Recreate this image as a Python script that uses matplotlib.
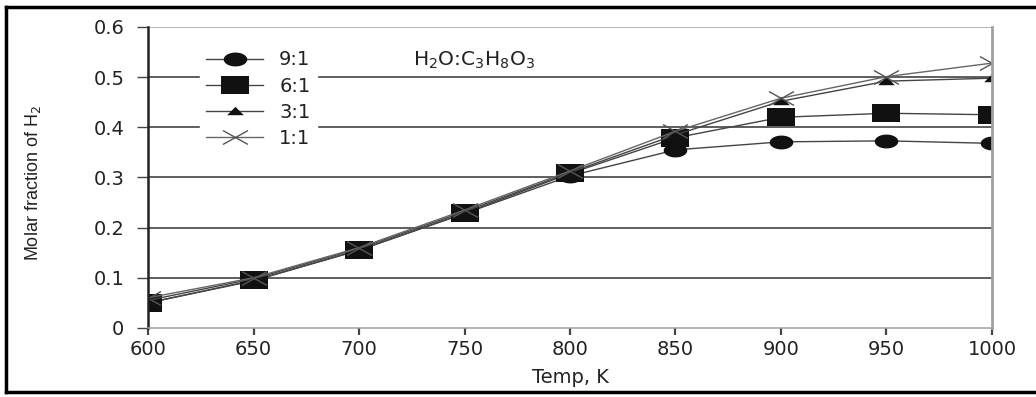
import numpy as np
import matplotlib.pyplot as plt
from matplotlib.path import Path
from matplotlib.lines import Line2D

plt.rcParams['font.family'] = ['DejaVu Sans']

temp = [600, 650, 700, 750, 800, 850, 900, 950, 1000]
r91 = [0.050, 0.094, 0.155, 0.228, 0.303, 0.355, 0.371, 0.373, 0.368]
r61 = [0.050, 0.095, 0.155, 0.229, 0.308, 0.379, 0.420, 0.428, 0.425]
r31 = [0.055, 0.098, 0.158, 0.232, 0.310, 0.385, 0.452, 0.492, 0.498]
r11 = [0.060, 0.100, 0.160, 0.235, 0.313, 0.392, 0.458, 0.501, 0.528]
labels = ['9:1', '6:1', '3:1', '1:1']

# the original picture is stretched sideways, so markers are wide
t = np.linspace(0, 2 * np.pi, 40)
wide_circle = Path(np.column_stack([1.7 * np.cos(t), np.sin(t)]))
wide_square = Path([(-1.55, -1), (1.55, -1), (1.55, 1), (-1.55, 1), (-1.55, -1)], closed=True)
wide_tri = Path([(-1.8, -0.8), (1.8, -0.8), (0, 1), (-1.8, -0.8)], closed=True)
wide_x = Path([(-1.8, -1), (1.8, 1), (-1.8, 1), (1.8, -1)],
              [Path.MOVETO, Path.LINETO, Path.MOVETO, Path.LINETO])

fig = plt.figure(figsize=(10.36, 3.97), dpi=100)
ax = fig.add_axes([0.1429, 0.174, 0.8146, 0.758])

for yv in [0.1, 0.2, 0.3, 0.4, 0.5]:
    ax.axhline(yv, color='#333333', lw=1.1, zorder=0)
ax.axhline(0.6, color='#a0a0a0', lw=1.1, zorder=0)

ax.plot(temp, r91, color='#444444', lw=1.0, marker=wide_circle, ms=17, mfc='#111111', mec='#111111', mew=0, label=labels[0])
ax.plot(temp, r61, color='#444444', lw=1.0, marker=wide_square, ms=20, mfc='#111111', mec='#111111', mew=0, label=labels[1])
ax.plot(temp, r31, color='#444444', lw=1.0, marker=wide_tri, ms=12, mfc='#111111', mec='#111111', mew=0, label=labels[2])
ax.plot(temp, r11, color='#666666', lw=1.0, marker=wide_x, ms=18, mfc='none', mec='#555555', mew=1.0, label=labels[3])

ax.set_xlim(600, 1000)
ax.set_ylim(0, 0.6)
ax.set_xticks(range(600, 1001, 50))
ax.set_yticks([0, 0.1, 0.2, 0.3, 0.4, 0.5, 0.6])
ax.set_yticklabels(['0', '0.1', '0.2', '0.3', '0.4', '0.5', '0.6'])
ax.tick_params(axis='both', labelsize=14, width=1.6, color='#444444', direction='out', labelcolor='#222222')
ax.tick_params(axis='y', length=8, pad=9, width=1.0)
ax.tick_params(axis='x', length=5, pad=4)

ax.spines['top'].set_visible(False)
ax.spines['right'].set_color('#a0a0a0')
ax.spines['right'].set_linewidth(2)
ax.spines['bottom'].set_color('#a0a0a0')
ax.spines['bottom'].set_linewidth(1.1)
ax.spines['left'].set_color('#222222')
ax.spines['left'].set_linewidth(1.8)

ax.set_xlabel('Temp, K', fontsize=14, labelpad=6, color='#222222')
ax.set_ylabel('Molar fraction of H$_2$', fontsize=13, color='#222222',
              family=['Liberation Sans Narrow', 'Liberation Sans', 'DejaVu Sans'])
ax.yaxis.set_label_coords(-0.125, 0.48)

leg = ax.legend(loc='upper left', bbox_to_anchor=(0.061, 0.945), frameon=True, fontsize=14,
                handlelength=2.9, labelspacing=0.37, borderpad=0.35, handletextpad=0.85,
                borderaxespad=0, fancybox=False)
leg.get_frame().set_edgecolor('white')
leg.get_frame().set_facecolor('white')
leg.get_frame().set_alpha(1)
for txt in leg.get_texts():
    txt.set_color('#222222')

ax.text(0.314, 0.89, 'H$_2$O:C$_3$H$_8$O$_3$', transform=ax.transAxes, fontsize=14.5,
        va='center', color='#222222')

# outer frame of the picture (right edge is cut off)
for xs, ys in [([0.006, 0.006], [0.012, 0.982]), ([0.006, 1.0], [0.982, 0.982]), ([0.006, 1.0], [0.012, 0.012])]:
    fig.add_artist(Line2D(xs, ys, transform=fig.transFigure, color='black', lw=2.5))

fig.savefig('out.png', dpi=100)
